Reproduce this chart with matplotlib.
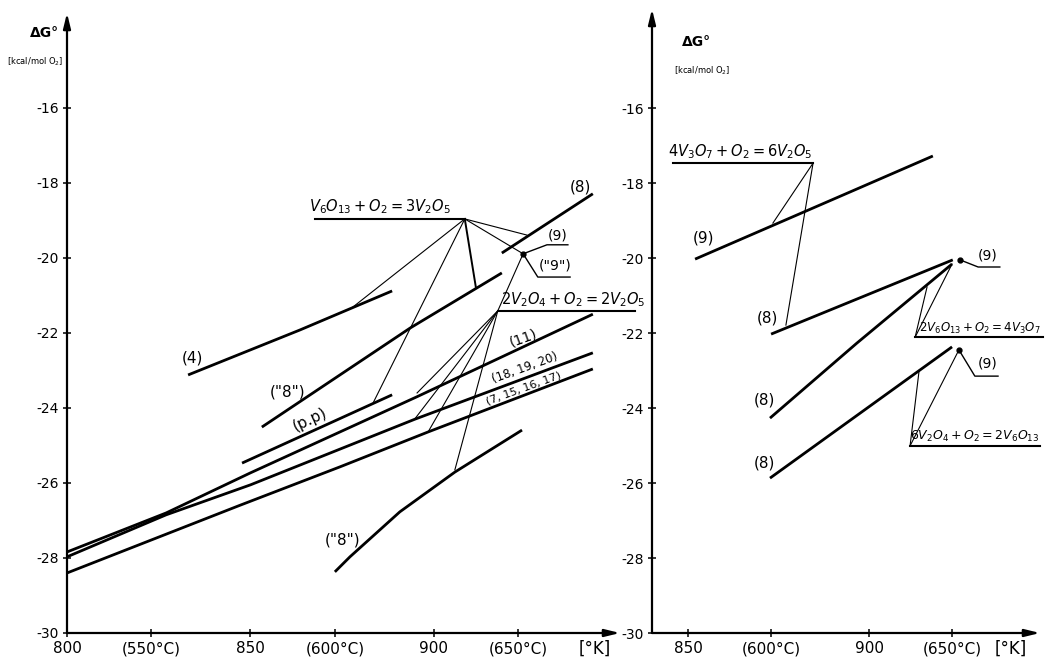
import matplotlib
matplotlib.use("Agg")
import matplotlib.pyplot as plt

# ---- left panel: dG (kcal/mol O2) vs T (K) ----
c4_t, c4_g = [833.0, 863.5, 888.6], [-23.12, -21.92, -20.88]
c8a_t, c8a_g = [853.1, 893.5, 918.5], [-24.51, -21.87, -20.40]
c8_t, c8_g = [918.5, 943.3], [-19.87, -18.29]
cpp_t, cpp_g = [847.7, 888.6], [-25.47, -23.65]
c11_t, c11_g = [800, 827, 850, 895.4, 943.3], [-27.84, -26.80, -25.73, -23.70, -21.50]
c18_t, c18_g = [800, 827, 850, 894.8, 943.3], [-27.97, -26.85, -26.05, -24.30, -22.53]
c7_t, c7_g = [800, 847, 874.4, 898.4, 943.3], [-28.40, -26.60, -25.57, -24.64, -22.96]
c8b_t, c8b_g = [873.0, 877.1, 890.7, 905.7, 924.0], [-28.37, -27.97, -26.77, -25.71, -24.59]

# reaction anchors and the points they point at (left)
p_v6o13 = (908.4, -18.96)
v6o13_bar = [867.6, 908.4]
v6o13_targets = [(877.9, -21.31), (883.4, -23.87), (925.3, -19.39), (924.3, -19.89)]
v6o13_main = (911.4, -20.77)
dot_9 = (924.3, -19.89)
p_v2o4 = (917.4, -21.41)
v2o4_bar = [917.4, 954.8]
v2o4_targets = [(924.3, -19.89), (895.4, -23.60), (894.8, -24.29), (898.4, -24.64), (905.7, -25.65)]
lead_9 = [(924.3, 930.8, 936.5), (-19.89, -19.65, -19.65)]
lead_9q = [(924.3, 928.3, 937.1), (-19.89, -20.51, -20.51)]

# ---- right panel ----
r9_t, r9_g = [851.9, 894.7, 917.6], [-20.03, -18.24, -17.28]
r8a_t, r8a_g = [872.9, 923.1], [-22.03, -20.05]
r8b_t, r8b_g = [872.6, 896.6, 922.9], [-24.27, -22.27, -20.16]
r8c_t, r8c_g = [872.6, 922.9], [-25.87, -22.37]
dot_r1 = (925.1, -20.05)
dot_r2 = (924.8, -22.45)
p_v3o7 = (884.5, -17.47)
v3o7_bar = [845.8, 884.5]
v3o7_targets = [(873.4, -19.07), (877.0, -21.79)]
p_v6 = (912.7, -22.11)
v6_bar = [912.7, 948.0]
v6_targets = [(916.0, -20.77), (922.9, -20.16)]
p_v2o4r = (911.3, -25.01)
v2o4r_bar = [911.3, 947.2]
v2o4r_targets = [(913.8, -23.00), (924.8, -22.45)]
lead_r1 = [(925.1, 930.1, 936.1), (-20.05, -20.24, -20.24)]
lead_r2 = [(924.8, 929.2, 935.6), (-22.45, -23.15, -23.15)]

y_ticks = [-16, -18, -20, -22, -24, -26, -28, -30]
left_xticks = [800, 823, 850, 873, 900, 923]
left_xlabels = ["800", "(550°C)", "850", "(600°C)", "900", "(650°C)"]
right_xticks = [850, 873, 900, 923]
right_xlabels = ["850", "(600°C)", "900", "(650°C)"]

plt.rcParams["font.family"] = ["DejaVu Sans"]
plt.rcParams["mathtext.fontset"] = "dejavusans"

W, H = 1045, 658
fig = plt.figure(figsize=(W / 100, H / 100), dpi=100)
axL = fig.add_axes([67 / W, 25 / H, 553 / W, 620 / H])
axR = fig.add_axes([652 / W, 25 / H, 388 / W, 624 / H])

THICK, THIN = 2.0, 0.8


def frame(ax, xlim, ylim, xt, xl):
    ax.set_xlim(*xlim)
    ax.set_ylim(*ylim)
    for s in ax.spines.values():
        s.set_visible(False)
    ax.patch.set_alpha(0)
    arrow = dict(arrowstyle="-|>,head_width=0.22,head_length=0.9", lw=1.6, color="k",
                 shrinkA=0, shrinkB=0)
    ax.annotate("", xy=(1, 0), xytext=(0, 0), xycoords="axes fraction", arrowprops=arrow)
    ax.annotate("", xy=(0, 1), xytext=(0, 0), xycoords="axes fraction", arrowprops=arrow)
    ax.set_yticks(y_ticks)
    ax.set_yticklabels([str(v) for v in y_ticks], fontsize=10)
    ax.set_xticks(xt)
    ax.set_xticklabels(xl, fontsize=11)
    ax.tick_params(direction="inout", length=6, width=1.1, pad=3)


def bar(ax, xs, y):
    ax.plot(xs, [y, y], color="k", lw=1.5, clip_on=False)


def fan(ax, p, targets, lw=THIN):
    for t in targets:
        ax.plot([p[0], t[0]], [p[1], t[1]], color="k", lw=lw, clip_on=False)


frame(axL, (800, 950.7), (-30, -13.47), left_xticks, left_xlabels)
frame(axR, (840, 947.2), (-30, -13.36), right_xticks, right_xlabels)

# left curves
for t, g in [(c4_t, c4_g), (c8a_t, c8a_g), (c8_t, c8_g), (cpp_t, cpp_g),
             (c11_t, c11_g), (c18_t, c18_g), (c7_t, c7_g), (c8b_t, c8b_g)]:
    axL.plot(t, g, color="k", lw=THICK, solid_capstyle="butt")

bar(axL, v6o13_bar, p_v6o13[1])
fan(axL, p_v6o13, v6o13_targets)
fan(axL, p_v6o13, [v6o13_main], lw=1.4)
bar(axL, v2o4_bar, p_v2o4[1])
fan(axL, p_v2o4, v2o4_targets)
axL.plot(*dot_9, "ko", ms=3.5)
axL.plot(*lead_9, color="k", lw=1.0)
axL.plot(*lead_9q, color="k", lw=1.0)

fs = 11
axL.text(834.3, -22.67, "(4)", fontsize=fs, ha="center", va="center")
axL.text(860.0, -23.57, '("8")', fontsize=fs, ha="center", va="center")
axL.text(866.2, -24.32, "(p.p)", fontsize=fs, ha="center", va="center", rotation=25)
axL.text(939.8, -18.11, "(8)", fontsize=fs, ha="center", va="center")
axL.text(924.3, -22.13, "(11)", fontsize=10, ha="center", va="center", rotation=20)
axL.text(924.8, -22.93, "(18, 19, 20)", fontsize=8.5, ha="center", va="center", rotation=20)
axL.text(924.3, -23.47, "(7, 15, 16, 17)", fontsize=8, ha="center", va="center", rotation=20)
axL.text(875.2, -27.52, '("8")', fontsize=fs, ha="center", va="center")
axL.text(933.8, -19.39, "(9)", fontsize=10, ha="center", va="center")
axL.text(933.0, -20.19, '("9")', fontsize=10, ha="center", va="center")
axL.text(885.3, -18.64, r"$V_6O_{13}+O_2=3V_2O_5$", fontsize=10.5, ha="center", va="center")
axL.text(938.1, -21.12, r"$2V_2O_4+O_2=2V_2O_5$", fontsize=10.5, ha="center", va="center",
         clip_on=False)
axL.text(943.9, -30.42, "[°K]", fontsize=12, ha="center", va="center", clip_on=False)
axL.text(-22 / 553, 1 - 20 / 620, "ΔG°", fontsize=10,
         ha="center", va="center", transform=axL.transAxes, fontweight="bold")
axL.text(-32 / 553, 1 - 49 / 620, "[kcal/mol O$_2$]", fontsize=6, ha="center", va="center",
         transform=axL.transAxes)

# right curves
for t, g in [(r9_t, r9_g), (r8a_t, r8a_g), (r8b_t, r8b_g), (r8c_t, r8c_g)]:
    axR.plot(t, g, color="k", lw=THICK, solid_capstyle="butt")
bar(axR, v3o7_bar, p_v3o7[1])
fan(axR, p_v3o7, v3o7_targets)
bar(axR, v6_bar, p_v6[1])
fan(axR, p_v6, v6_targets)
bar(axR, v2o4r_bar, p_v2o4r[1])
fan(axR, p_v2o4r, v2o4r_targets)
axR.plot(*dot_r1, "ko", ms=3.5)
axR.plot(*dot_r2, "ko", ms=3.5)
axR.plot(*lead_r1, color="k", lw=1.0, clip_on=False)
axR.plot(*lead_r2, color="k", lw=1.0, clip_on=False)

axR.text(854.1, -19.47, "(9)", fontsize=fs, ha="center", va="center")
axR.text(872.0, -21.60, "(8)", fontsize=fs, ha="center", va="center")
axR.text(871.2, -23.79, "(8)", fontsize=fs, ha="center", va="center")
axR.text(871.2, -25.47, "(8)", fontsize=fs, ha="center", va="center")
axR.text(932.8, -19.92, "(9)", fontsize=10, ha="center", va="center")
axR.text(932.8, -22.80, "(9)", fontsize=10, ha="center", va="center")
axR.text(864.3, -17.17, r"$4V_3O_7+O_2=6V_2O_5$", fontsize=10.5, ha="center", va="center")
axR.text(930.6, -21.87, r"$2V_6O_{13}+O_2=4V_3O_7$", fontsize=8.5, ha="center", va="center",
         clip_on=False)
axR.text(929.2, -24.77, r"$6V_2O_4+O_2=2V_6O_{13}$", fontsize=9, ha="center", va="center",
         clip_on=False)
axR.text(939.0, -30.42, "[°K]", fontsize=12, ha="center", va="center", clip_on=False)
axR.text(45 / 388, 1 - 33 / 624, "ΔG°", fontsize=10, ha="center", va="center",
         transform=axR.transAxes, fontweight="bold")
axR.text(50 / 388, 1 - 62 / 624, "[kcal/mol O$_2$]", fontsize=6, ha="center", va="center",
         transform=axR.transAxes)

fig.savefig("out.png", dpi=100)
